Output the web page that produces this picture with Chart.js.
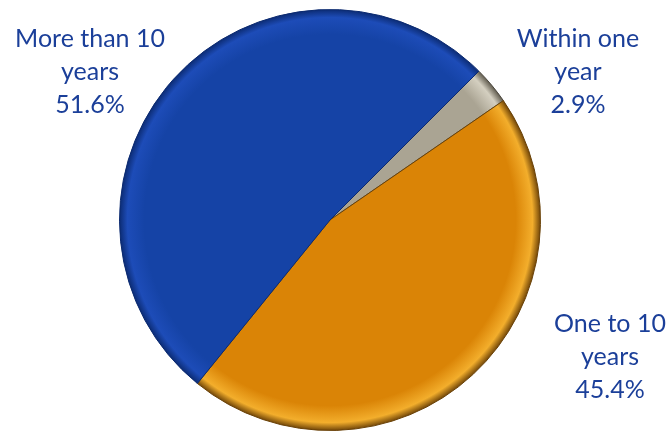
<!DOCTYPE html>
<html>
<head>
<meta charset="utf-8">
<script src="https://cdn.jsdelivr.net/npm/chart.js@4"></script>
<style>
  html, body { margin: 0; padding: 0; background: #ffffff; }
  #wrap { width: 669px; height: 431px; position: relative; }
</style>
</head>
<body>
<div id="wrap"><canvas id="pie"></canvas></div>
<script>
// Dados do gráfico
const categorias = ['Within one year', 'One to 10 years', 'More than 10 years'];
const linhasRotulo = [['Within one', 'year'], ['One to 10', 'years'], ['More than 10', 'years']];
const percentuais = [2.9, 45.4, 51.6];

// Cores das fatias (cinza, laranja, azul)
const coresCentro = ['#aaa493', '#da8406', '#1543a6'];
const coresBorda = ['#d4cfc0', '#f3ae2c', '#1d4cb8'];
const coresContorno = ['#5a5548', '#6a4006', '#0b2a70'];

// Posição dos rótulos (centro do bloco de texto)
const posRotulos = [[578, 72], [610, 357], [90, 72]];

// Gradiente radial para dar um leve efeito de relevo
function gradiente(ctx, i) {
    const chart = ctx.chart;
    const area = chart.chartArea;
    if (!area || !isFinite(area.left) || area.width <= 0) return coresCentro[i];
    const cx = (area.left + area.right) / 2;
    const cy = (area.top + area.bottom) / 2;
    const r = Math.min(area.width, area.height) / 2;
    const g = chart.ctx.createRadialGradient(cx, cy, 0, cx, cy, r);
    g.addColorStop(0, coresCentro[i]);
    g.addColorStop(0.88, coresCentro[i]);
    g.addColorStop(0.96, coresBorda[i]);
    g.addColorStop(1, coresContorno[i]);
    return g;
}

// Plugin para escrever os rótulos fora da pizza
const rotulosPlugin = {
    id: 'rotulos',
    afterDraw(chart) {
        const ctx = chart.ctx;
        ctx.save();
        ctx.fillStyle = '#1b3f99';
        ctx.font = '25px "Lato", "Open Sans", sans-serif';
        ctx.textAlign = 'center';
        ctx.textBaseline = 'middle';
        categorias.forEach((c, i) => {
            const [x, y] = posRotulos[i];
            const linhas = [...linhasRotulo[i], percentuais[i].toFixed(1) + '%'];
            linhas.forEach((t, k) => {
                ctx.fillText(t, x, y + (k - 1) * 33);
            });
        });
        ctx.restore();
    }
};

new Chart(document.getElementById('pie'), {
    type: 'pie',
    data: {
        labels: categorias,
        datasets: [{
            data: percentuais,
            backgroundColor: ctx => gradiente(ctx, ctx.dataIndex),
            borderColor: ['#4a463c', '#6a4208', '#0b2a70'],
            borderWidth: 1
        }]
    },
    options: {
        responsive: true,
        maintainAspectRatio: false,
        animation: false,
        rotation: 45,
        layout: { padding: { top: 9, bottom: 0, left: 0, right: 9 } },
        plugins: {
            legend: { display: false },
            tooltip: { enabled: false }
        }
    },
    plugins: [rotulosPlugin]
});
</script>
</body>
</html>
